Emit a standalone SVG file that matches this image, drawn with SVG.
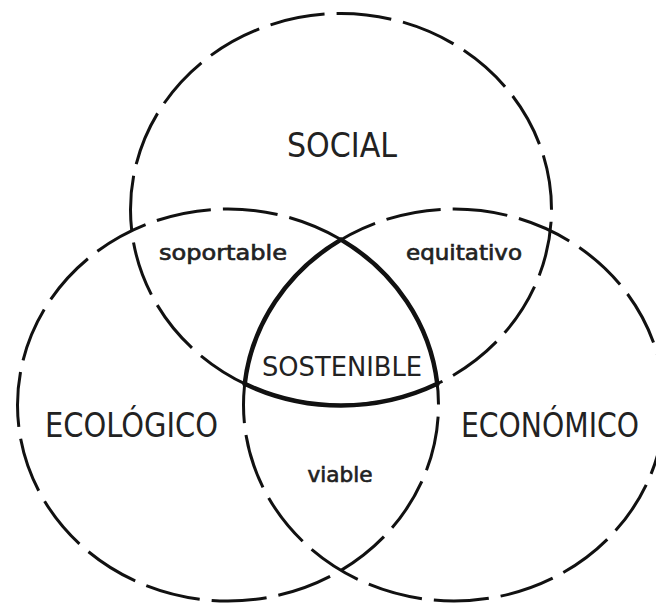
<svg xmlns="http://www.w3.org/2000/svg" width="656" height="606" viewBox="0 0 656 606">
<style>
.ring{fill:none;stroke:#111;stroke-width:3;stroke-dasharray:55 12}
.core{fill:none;stroke:#111;stroke-width:4.5;stroke-linejoin:miter}
text{font-family:"DejaVu Sans","Liberation Sans",sans-serif;font-stretch:condensed;fill:#222;text-anchor:middle}
.big{font-size:33px}
.mid{font-size:27px}
.small{font-size:21px;stroke:#222;stroke-width:0.6}
</style>
<rect width="656" height="606" fill="#fff"/>
<g id="connectors">
<ellipse class="ring" pathLength="1273" style="stroke-dashoffset:54.7" cx="341" cy="209.5" rx="210.5" ry="196"/>
<ellipse class="ring" pathLength="1273" style="stroke-dashoffset:55.4" cx="228" cy="405" rx="210.5" ry="196"/>
<ellipse class="ring" pathLength="1273" style="stroke-dashoffset:51.6" cx="454" cy="405" rx="210.5" ry="196"/>
<path class="core" d="M 341 239.6 A 210.5 196 0 0 1 437.27 383.8 A 210.5 196 0 0 1 244.73 383.8 A 210.5 196 0 0 1 341 239.6 Z"/>
</g>
<g id="social"><text class="big" x="342" y="157" textLength="110" lengthAdjust="spacingAndGlyphs">SOCIAL</text></g>
<g id="ecologico"><text class="big" x="131.5" y="437" textLength="173" lengthAdjust="spacingAndGlyphs">ECOLÓGICO</text></g>
<g id="economico"><text class="big" x="550" y="437" textLength="178" lengthAdjust="spacingAndGlyphs">ECONÓMICO</text></g>
<g id="sostenible"><text class="mid" x="342" y="376" textLength="160" lengthAdjust="spacingAndGlyphs">SOSTENIBLE</text></g>
<g id="soportable"><text class="small" x="223" y="260" textLength="128" lengthAdjust="spacingAndGlyphs">soportable</text></g>
<g id="equitativo"><text class="small" x="464" y="260" textLength="116" lengthAdjust="spacingAndGlyphs">equitativo</text></g>
<g id="viable"><text class="small" x="340" y="482" textLength="65" lengthAdjust="spacingAndGlyphs">viable</text></g>
</svg>
